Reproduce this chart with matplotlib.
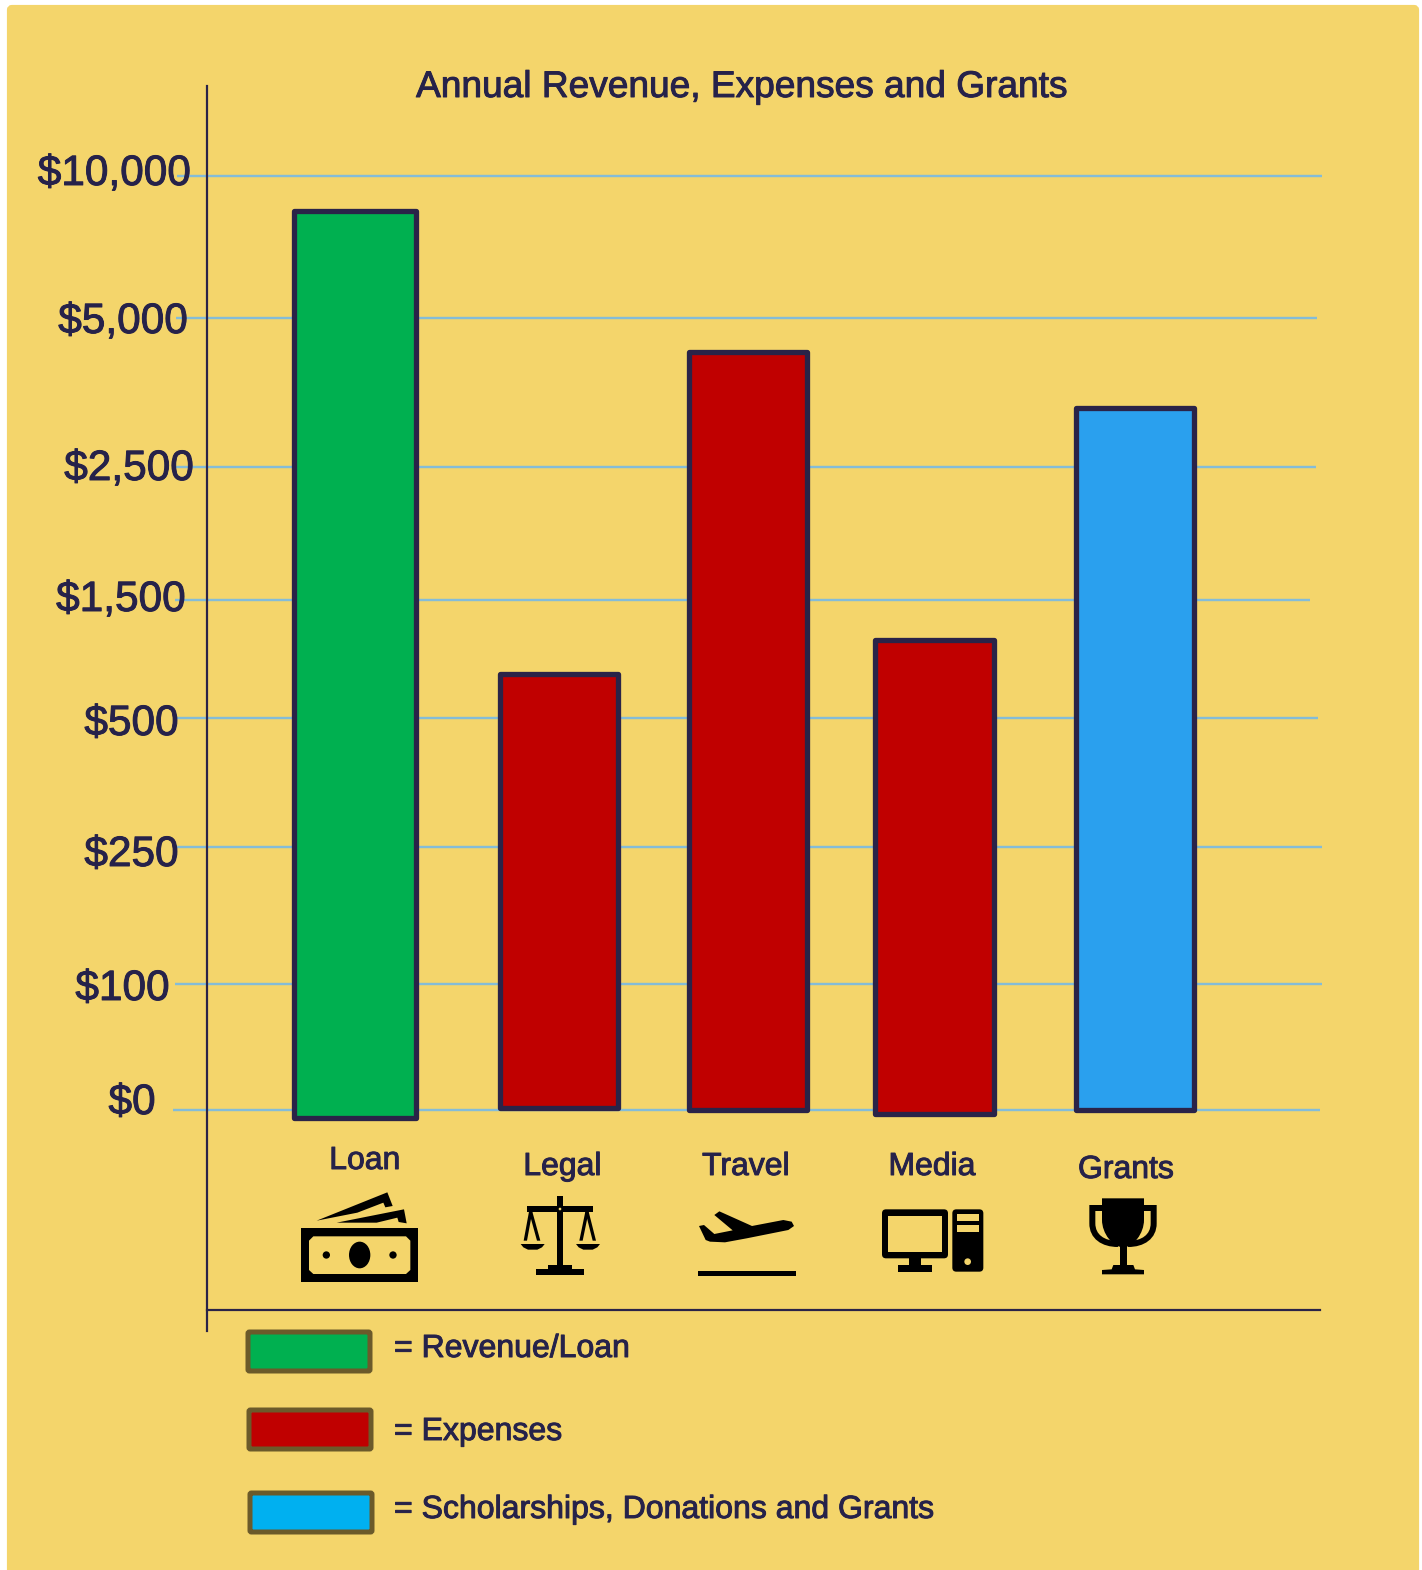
import numpy as np
import matplotlib
matplotlib.use("Agg")
import matplotlib.pyplot as plt
from matplotlib.patches import FancyBboxPatch, Polygon, Ellipse, PathPatch
from matplotlib.path import Path
from matplotlib.transforms import ScaledTranslation
import matplotlib.patheffects as pe

plt.rcParams['font.family'] = ['Liberation Sans', 'DejaVu Sans']

# ---- data ----
title = "Annual Revenue, Expenses and Grants"
categories = ["Loan", "Legal", "Travel", "Media", "Grants"]
bar_values = [8780, 873, 4442, 1164, 3505]
bar_bottoms = [-6, 2, 0, -3, 0]
tick_values = [0, 100, 250, 500, 1500, 2500, 5000, 10000]
tick_labels = ["$0", "$100", "$250", "$500", "$1,500", "$2,500", "$5,000", "$10,000"]
legend_labels = ["= Revenue/Loan", "= Expenses", "= Scholarships, Donations and Grants"]

# ---- style ----
BG = "#f4d56b"; INK = "#26224a"; GRID = "#84bcd8"; EDGE = "#2a2348"; LEG_EDGE = "#6b5a2a"
GREEN = "#00b050"; RED = "#c00000"; BLUE = "#2aa0ee"; LEG_BLUE = "#00b0f0"
bar_colors = [GREEN, RED, RED, RED, BLUE]
legend_colors = [GREEN, RED, LEG_BLUE]
HEAVY = [pe.withStroke(linewidth=0.7, foreground=INK)]

W, H = 1422, 1570
px = 0.72  # linewidth in points per pixel at dpi 100
fig = plt.figure(figsize=(W / 100, H / 100), dpi=100, facecolor="white")

# pixel layer for panel, icons and legend
pax = fig.add_axes([0, 0, 1, 1], zorder=0)
pax.set_xlim(0, W); pax.set_ylim(H, 0); pax.axis("off")
pax.add_patch(FancyBboxPatch((9, 7), 1408, 1600, boxstyle="round,pad=0,rounding_size=3",
                             fc=BG, ec=BG, lw=3))

# non-uniform value axis: piecewise-linear between the gridlines
scale_pos = np.array([1109, 983, 846, 717, 599, 466, 317, 175], float)
scale_val = np.array(tick_values, float)
def forward(v):
    v = np.asarray(v, float)
    p = np.interp(v, scale_val, scale_pos)
    lo = (scale_pos[1] - scale_pos[0]) / (scale_val[1] - scale_val[0])
    hi = (scale_pos[-1] - scale_pos[-2]) / (scale_val[-1] - scale_val[-2])
    p = np.where(v < scale_val[0], scale_pos[0] + (v - scale_val[0]) * lo, p)
    p = np.where(v > scale_val[-1], scale_pos[-1] + (v - scale_val[-1]) * hi, p)
    return -p
def inverse(q):
    p = -np.asarray(q, float)
    v = np.interp(p, scale_pos[::-1], scale_val[::-1])
    lo = (scale_val[1] - scale_val[0]) / (scale_pos[1] - scale_pos[0])
    hi = (scale_val[-1] - scale_val[-2]) / (scale_pos[-1] - scale_pos[-2])
    v = np.where(p > scale_pos[0], scale_val[0] + (p - scale_pos[0]) * lo, v)
    v = np.where(p < scale_pos[-1], scale_val[-1] + (p - scale_pos[-1]) * hi, v)
    return v

L, R, T, B = 207, 1320, 85, 1308
SHIFT = 1.5
ax = fig.add_axes([L / W, 1 - (B + SHIFT) / H, (R - L) / W, (B - T) / H], zorder=1, facecolor="none")
ax.set_yscale("function", functions=(forward, inverse))
ax.set_xlim(L, R)
ax.set_ylim(float(inverse(-B)), float(inverse(-T)))

for s in ("top", "right"):
    ax.spines[s].set_visible(False)
for s in ("left", "bottom"):
    ax.spines[s].set_color(EDGE); ax.spines[s].set_linewidth(2.2 * px)
ax.spines["left"].set_bounds(float(inverse(-1330)), float(inverse(-T)))

# gridlines with their individual extents
grid_start = [173, 175, 175, 175, 175, 176, 176, 177]
grid_end = [1320, 1322, 1322, 1318, 1310, 1316, 1317, 1322]
for v, a, b in zip(tick_values, grid_start, grid_end):
    ax.plot([a, b], [v, v], color=GRID, lw=2.4 * px, clip_on=False, zorder=1, solid_capstyle="butt")

# bars
bar_x = [354.5, 558.5, 747.5, 934, 1134.5]
bar_w = [122, 118, 118, 119, 118]
bars = ax.bar(bar_x, np.array(bar_values) - np.array(bar_bottoms), width=bar_w, bottom=bar_bottoms,
              color=bar_colors, edgecolor=EDGE, linewidth=5.3 * px, zorder=3, clip_on=False)
for b_ in bars:
    b_.set_joinstyle("round")

# value tick labels
ax.set_yticks(tick_values)
ax.set_yticklabels(tick_labels)
ax.minorticks_off()
ax.tick_params(axis="y", length=0, pad=0, labelsize=30.5, labelcolor=INK)
ylab_right = [155.5, 169.5, 178.5, 178.5, 185.5, 193.5, 187.5, 190.5]
ylab_center = [1101.5, 987.5, 853.5, 722.5, 598.5, 467.5, 320.5, 172.5]
for t, pos, r, c in zip(ax.yaxis.get_major_ticks(), scale_pos, ylab_right, ylab_center):
    lab = t.label1
    lab.set_va("center"); lab.set_ha("right"); lab.set_path_effects(HEAVY)
    lab.set_transform(lab.get_transform() +
                      ScaledTranslation((r - L) / 100, (pos - c) / 100, fig.dpi_scale_trans))

# category labels
ax.set_xticks(bar_x)
ax.set_xticklabels(categories)
ax.tick_params(axis="x", length=0, pad=0, labelsize=23, labelcolor=INK)
xlab_center = [365, 562.5, 746, 932, 1126]
xlab_y = [1159.5, 1165.5, 1165.5, 1165.5, 1168.5]
for t, x0, cx, cy in zip(ax.xaxis.get_major_ticks(), bar_x, xlab_center, xlab_y):
    lab = t.label1
    lab.set_va("center"); lab.set_ha("center"); lab.set_path_effects(HEAVY)
    lab.set_transform(lab.get_transform() +
                      ScaledTranslation((cx - x0) / 100, (B - cy) / 100, fig.dpi_scale_trans))

pax.text(742.5, 87.5, title, ha="center", va="center", fontsize=26.7, color=INK, path_effects=HEAVY)

# legend
leg_x = [248, 249, 250]
leg_y = [1332, 1410, 1493]
for x, y, col, lab, ty in zip(leg_x, leg_y, legend_colors, legend_labels, [1349, 1432, 1510]):
    pax.add_patch(FancyBboxPatch((x, y), 122, 39, boxstyle="round,pad=0,rounding_size=1.5",
                                 fc=col, ec=LEG_EDGE, lw=5 * px))
    pax.text(394, ty, lab, ha="left", va="center", fontsize=23.05, color=INK, path_effects=HEAVY)

# ---- icons, drawn in zoom-crop coordinates ----
def mk(ox, oy):
    return lambda pts: [(ox + x / 3, oy + y / 3) for x, y in pts]
K = "black"
def poly(f, pts, c=K, z=3):
    pax.add_patch(Polygon(f(pts), closed=True, fc=c, ec="none", zorder=z))
def box(f, x0, y0, x1, y1, c=K, z=3):
    poly(f, [(x0, y0), (x1, y0), (x1, y1), (x0, y1)], c, z)
def ell(f, cx, cy, rx, ry, c=K, z=3):
    (x, y), = f([(cx, cy)])
    pax.add_patch(Ellipse((x, y), 2 * rx / 3, 2 * ry / 3, fc=c, ec="none", zorder=z))

f = mk(280, 1120)
# money
box(f, 63, 325, 415, 485)
poly(f, [(87, 362), (100, 349), (378, 349), (391, 362), (391, 450), (378, 462), (100, 462), (87, 450)], BG, 4)
ell(f, 239, 405, 32, 40, K, 5); ell(f, 139, 405, 11, 11, K, 5); ell(f, 339, 405, 11, 11, K, 5)
poly(f, [(110, 302), (322, 217), (338, 258), (316, 262), (310, 248), (232, 278)])
poly(f, [(170, 308), (372, 268), (380, 310), (356, 306), (352, 293), (290, 308)])
# scales
box(f, 742, 259, 940, 275); box(f, 832, 228, 849, 440)
box(f, 805, 435, 875, 447); box(f, 769, 447, 912, 465)
ell(f, 840, 267, 10, 10, K, 4); ell(f, 840, 267, 4, 4, BG, 5)
for xc, xa, xb in [(752, 736, 776), (921, 903, 943)]:
    for xe in (xa, xb):
        poly(f, [(xc - 5, 275), (xc + 5, 275), (xe + 5, 362), (xe - 5, 362)])
for x0, x1 in [(722, 794), (888, 960)]:
    poly(f, [(x0, 372), (x1, 372), (x1 - 8, 382), (x1 - 22, 389), (x0 + 22, 389), (x0 + 8, 382)])
# plane
poly(f, [(1257, 318), (1272, 315), (1303, 342), (1358, 331), (1303, 285), (1318, 274), (1416, 318),
         (1510, 300), (1535, 305), (1542, 318), (1525, 330), (1400, 355), (1335, 367), (1290, 365), (1277, 360)])
box(f, 1254, 453, 1548, 468)

g = mk(800, 1120)
# computer
def rbox(x0, y0, x1, y1, r, c=K, z=3):
    (a, b), (d, e) = g([(x0, y0), (x1, y1)])
    pax.add_patch(FancyBboxPatch((a, b), d - a, e - b, boxstyle=f"round,pad=0,rounding_size={r}",
                                 fc=c, ec="none", zorder=z))
rbox(246, 268, 444, 415, 4); box(g, 265, 288, 425, 396, BG, 4)
box(g, 326, 415, 364, 435); box(g, 295, 435, 395, 455)
rbox(457, 268, 550, 455, 4)
box(g, 470, 282, 537, 302, BG, 4); box(g, 470, 315, 537, 335, BG, 4)
ell(g, 503, 425, 10, 10, BG, 4)
# trophy
def path(f_, verts, codes, fc, ec, lw):
    pax.add_patch(PathPatch(Path(f_(verts), codes), fc=fc, ec=ec, lw=lw, zorder=3, capstyle="butt"))
M, LI, C, Z = Path.MOVETO, Path.LINETO, Path.CURVE4, Path.CLOSEPOLY
path(g, [(906, 235), (1032, 235), (1032, 300), (1032, 340), (1000, 382), (970, 382),
         (938, 382), (906, 340), (906, 300), (906, 235)],
     [M, LI, LI, C, C, C, C, C, C, Z], K, "none", 0)
for sgn in (-1, 1):
    cx = 969
    path(g, [(cx + sgn * 40, 264), (cx + sgn * 92, 264), (cx + sgn * 92, 310),
             (cx + sgn * 92, 350), (cx + sgn * 60, 372), (cx + sgn * 15, 372)],
         [M, LI, LI, C, C, C], "none", K, 6 * px)
box(g, 959, 375, 981, 440)
poly(g, [(935, 448), (940, 435), (1000, 435), (1005, 448), (1032, 450), (1032, 463), (906, 463), (906, 450)])

fig.savefig("out.png", dpi=100, facecolor="white")
